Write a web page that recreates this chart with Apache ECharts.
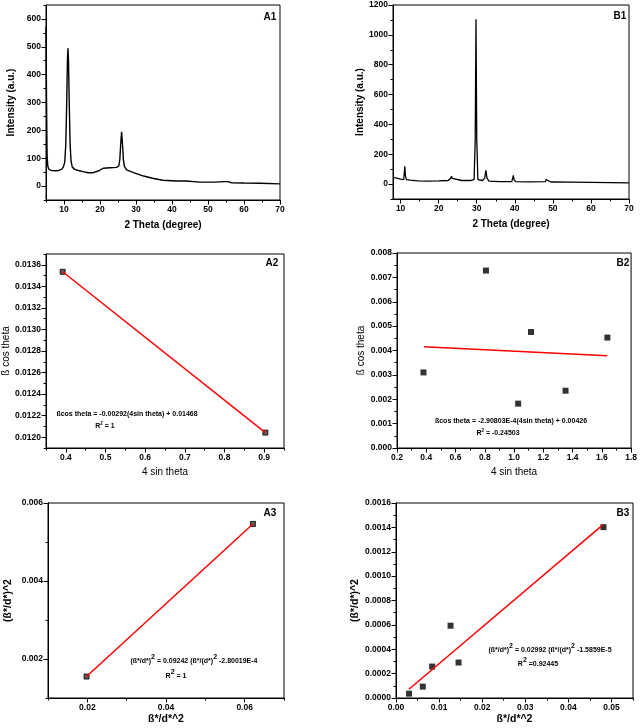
<!DOCTYPE html>
<html><head><meta charset="utf-8">
<script src="https://cdn.jsdelivr.net/npm/echarts@6/dist/echarts.min.js"></script>
<style>html,body{margin:0;padding:0;background:#fff}#c{width:640px;height:728px}</style>
</head><body><div id="c"></div>
<script>
// ---------- data ----------
const a1Xrd = [[5,572],[5.15,300],[5.3,110],[5.5,72],[5.8,60],[6.5,56],[7.5,55],[8.5,56],[9.3,60],[9.8,68],[10.2,85],[10.5,150],[10.75,300],[10.95,450],[11.1,495],[11.25,450],[11.45,300],[11.7,150],[11.95,90],[12.3,68],[13,60],[14,56],[15.3,52],[16.7,48],[18.1,48],[19.5,54],[20.9,64],[22.8,66],[24.6,67],[25.2,72],[25.5,95],[25.75,150],[26.0,195],[26.25,150],[26.5,95],[26.8,70],[27.4,58],[29.3,48],[32.1,36],[34.9,27],[37.5,21],[41.2,18],[44,18],[47.7,14],[52,14],[54.7,16],[55.5,16],[56.6,12],[60,11],[64.5,10],[70,8]];
const b1Xrd = [[8,45],[9,40],[10,33],[10.8,30],[11.0,80],[11.1,120],[11.25,60],[11.5,30],[12.5,26],[14.5,22],[17,20],[20,22],[22.5,24],[23.1,38],[23.35,52],[23.6,38],[24.1,26],[26,24],[28.5,24],[29.3,30],[29.6,300],[29.8,1105],[30.0,300],[30.3,30],[31.5,24],[32.1,40],[32.4,92],[32.7,40],[33.2,20],[36,16],[39.2,16],[39.45,40],[39.6,58],[39.8,30],[40.2,16],[44,15],[48.0,16],[48.2,30],[48.4,40],[48.7,20],[49.5,14],[55,13],[60,12],[65,10],[70,8]];
const a2Points = [[0.392,0.013535],[0.903,0.012043]];
const a2Fit = [[0.392,0.013535],[0.903,0.012043]];
const b2Points = [[0.381,0.00310],[0.808,0.00728],[1.028,0.00182],[1.116,0.00476],[1.352,0.00235],[1.638,0.00453]];
const b2Fit = [[0.385,0.00415],[1.637,0.00378]];
const a3Points = [[0.0198,0.00155],[0.0621,0.00546]];
const a3Fit = [[0.0198,0.00155],[0.0621,0.00546]];
const b3Points = [[0.00303,0.0000357],[0.00621,0.0000933],[0.00839,0.000258],[0.01266,0.000593],[0.01452,0.000291],[0.04814,0.001402]];
const b3Fit = [[0.003,0.000072],[0.048,0.00142]];

// tick values
const a1XMajor = [10,20,30,40,50,60,70], a1XMinor = [5,15,25,35,45,55,65];
const a1YMajor = [0,100,200,300,400,500,600], a1YMinor = [-50,50,150,250,350,450,550,650];
const b1XMajor = [10,20,30,40,50,60,70], b1XMinor = [15,25,35,45,55,65];
const b1YMajor = [0,200,400,600,800,1000,1200], b1YMinor = [-100,100,300,500,700,900,1100];
const a2XMajor = [0.4,0.5,0.6,0.7,0.8,0.9], a2XMinor = [0.35,0.45,0.55,0.65,0.75,0.85,0.95];
const a2YMajor = [0.0120,0.0122,0.0124,0.0126,0.0128,0.0130,0.0132,0.0134,0.0136], a2YMinor = [0.0119,0.0121,0.0123,0.0125,0.0127,0.0129,0.0131,0.0133,0.0135,0.0137];
const b2XMajor = [0.2,0.4,0.6,0.8,1.0,1.2,1.4,1.6,1.8], b2XMinor = [0.3,0.5,0.7,0.9,1.1,1.3,1.5,1.7];
const b2YMajor = [0,0.001,0.002,0.003,0.004,0.005,0.006,0.007,0.008], b2YMinor = [0.0005,0.0015,0.0025,0.0035,0.0045,0.0055,0.0065,0.0075];
const a3XMajor = [0.02,0.04,0.06], a3XMinor = [0.01,0.03,0.05,0.07];
const a3YMajor = [0.002,0.004,0.006], a3YMinor = [0.001,0.003,0.005];
const b3XMajor = [0,0.01,0.02,0.03,0.04,0.05], b3XMinor = [0.005,0.015,0.025,0.035,0.045,0.055];
const b3YMajor = [0,0.0002,0.0004,0.0006,0.0008,0.0010,0.0012,0.0014,0.0016], b3YMinor = [0.0001,0.0003,0.0005,0.0007,0.0009,0.0011,0.0013,0.0015];

// ---------- layout ----------
const FONT = '"Liberation Sans", Arial, sans-serif';
const grids = [
  {left:46, top:5, width:234, height:195},
  {left:393, top:5, width:236, height:194},
  {left:46, top:254, width:238, height:194},
  {left:397, top:253, width:236, height:195},
  {left:48, top:503, width:236, height:195},
  {left:396, top:503, width:237, height:195}
];
const xAxes = [], yAxes = [];
function addAxes(list, dim, gi, min, max, majors, minors, dec, name, gap, bold, nsize){
  const pos = dim === 'x' ? 'bottom' : 'left';
  const common = {type:'value', gridIndex:gi, min:min, max:max, position:pos, splitLine:{show:false}};
  list.push(Object.assign({}, common, {
    axisLine:{show:true, onZero:false, lineStyle:{color:'#000', width:1}},
    axisTick:{show:true, inside:false, length:2.5, customValues:minors, lineStyle:{color:'#000', width:1}},
    axisLabel:{show:false}
  }));
  list.push(Object.assign({}, common, {
    axisLine:{show:true, onZero:false, lineStyle:{color:'#000', width:1}},
    axisTick:{show:true, inside:false, length:4.5, customValues:majors, lineStyle:{color:'#000', width:1}},
    axisLabel:{show:true, customValues:majors, margin:5, color:'#000', fontSize:8.5, fontWeight:'bold', fontFamily:FONT,
      formatter: v => dec === null ? String(Math.round(v)) : Number(v).toFixed(dec)},
    name:name, nameLocation:'middle', nameGap:gap,
    nameTextStyle:{color:'#000', fontSize:nsize, fontWeight: bold ? 'bold' : 'normal', fontFamily:FONT}
  }));
}
addAxes(xAxes,'x',0,5,70,a1XMajor,a1XMinor,null,'2 Theta (degree)',20,true,10);
addAxes(yAxes,'y',0,-50,650,a1YMajor,a1YMinor,null,'Intensity (a.u.)',30,true,10);
addAxes(xAxes,'x',1,8,70,b1XMajor,b1XMinor,null,'2 Theta (degree)',20,true,10);
addAxes(yAxes,'y',1,-100,1200,b1YMajor,b1YMinor,null,'Intensity (a.u.)',27,true,10);
addAxes(xAxes,'x',2,0.35,0.95,a2XMajor,a2XMinor,1,'4 sin theta',19,false,10);
addAxes(yAxes,'y',2,0.0119,0.0137,a2YMajor,a2YMinor,4,'ß cos theta',35,false,10);
addAxes(xAxes,'x',3,0.2,1.8,b2XMajor,b2XMinor,1,'4 sin theta',19,false,10);
addAxes(yAxes,'y',3,0,0.008,b2YMajor,b2YMinor,3,'ß cos theta',31,false,10);
addAxes(xAxes,'x',4,0.01,0.07,a3XMajor,a3XMinor,2,'ß*/d*^2',16,true,10.5);
addAxes(yAxes,'y',4,0.001,0.006,a3YMajor,a3YMinor,3,'(ß*/d*)^2',34,true,10.5);
addAxes(xAxes,'x',5,0,0.055,b3XMajor,b3XMinor,2,'ß*/d*^2',16,true,10.5);
addAxes(yAxes,'y',5,0,0.0016,b3YMajor,b3YMinor,4,'(ß*/d*)^2',32,true,10.5);

function ax(i){ return {xAxisIndex:2*i+1, yAxisIndex:2*i+1}; }
const series = [
  Object.assign({type:'line', data:a1Xrd, showSymbol:false, symbol:'none', lineStyle:{color:'#000', width:1.4}}, ax(0)),
  Object.assign({type:'line', data:b1Xrd, showSymbol:false, symbol:'none', lineStyle:{color:'#000', width:1.3}}, ax(1)),
  Object.assign({type:'line', data:a2Fit, symbol:'none', lineStyle:{color:'#ff0000', width:1.5}}, ax(2)),
  Object.assign({type:'scatter', data:a2Points, symbol:'rect', symbolSize:5, itemStyle:{color:'#333', borderColor:'#000', borderWidth:1}}, ax(2)),
  Object.assign({type:'line', data:b2Fit, symbol:'none', lineStyle:{color:'#ff0000', width:1.5}}, ax(3)),
  Object.assign({type:'scatter', data:b2Points, symbol:'rect', symbolSize:6, itemStyle:{color:'#000'}}, ax(3)),
  Object.assign({type:'line', data:a3Fit, symbol:'none', lineStyle:{color:'#ff0000', width:1.5}}, ax(4)),
  Object.assign({type:'scatter', data:a3Points, symbol:'rect', symbolSize:5, itemStyle:{color:'#333', borderColor:'#000', borderWidth:1}}, ax(4)),
  Object.assign({type:'line', data:b3Fit, symbol:'none', lineStyle:{color:'#ff0000', width:1.5}}, ax(5)),
  Object.assign({type:'scatter', data:b3Points, symbol:'rect', symbolSize:6, itemStyle:{color:'#000'}}, ax(5))
];
series.forEach(s => { s.silent = true; s.animation = false; });

function label(t, x, y, size){
  return {type:'text', x:x, y:y, silent:true, style:{text:t, fill:'#000', font:'bold '+size+'px '+FONT, textAlign:'center', textVerticalAlign:'middle'}};
}
const richStyles = {
  n:{fontSize:7, fontWeight:'bold', fontFamily:FONT, color:'#000', lineHeight:9, verticalAlign:'bottom'},
  t:{fontSize:4.5, fontWeight:'bold', fontFamily:FONT, color:'#000', lineHeight:9, verticalAlign:'top', padding:[1,0,0,0]},
  m:{fontSize:7, fontWeight:'bold', fontFamily:FONT, color:'#000', lineHeight:11, verticalAlign:'bottom'},
  s:{fontSize:7, fontWeight:'bold', fontFamily:FONT, color:'#000', lineHeight:11, verticalAlign:'top'}
};
function rich(t, x, y){
  return {type:'text', x:x, y:y, silent:true, style:{text:t, rich:richStyles, fill:'#000', font:'bold 7px '+FONT, textAlign:'center', textVerticalAlign:'middle'}};
}
const graphics = [
  label('A1',270,17,10), label('B1',620,16,10), label('A2',272,263,10),
  label('B2',623,263,10), label('A3',270,513,10), label('B3',623,513,10),
  rich('{n|ßcos theta = -0.00292(4sin theta) + 0.01468}',127,413),
  rich('{n|R}{t|2}{n| = 1}',105,425),
  rich('{n|ßcos theta = -2.90803E-4(4sin theta) + 0.00426}',511,420),
  rich('{n|R}{t|2}{n| = -0.24503}',498,432),
  rich('{m|(ß*/d*)}{s|2}{m| = 0.09242 (ß*/(d*)}{s|2}{m| -2.80019E-4}',194,659),
  rich('{m|R}{s|2}{m| = 1}',176,674),
  rich('{m|(ß*/d*)}{s|2}{m| = 0.02992 (ß*/(d*)}{s|2}{m| -1.5859E-5}',550,648),
  rich('{m|R}{s|2}{m| =0.92445}',538,662)
];

const chart = echarts.init(document.getElementById('c'), null, {renderer:'canvas'});
chart.setOption({
  animation:false,
  backgroundColor:'#fff',
  textStyle:{fontFamily:FONT},
  grid: grids.map(g => Object.assign({show:true, borderColor:'#000', borderWidth:1, backgroundColor:'transparent'}, g)),
  xAxis:xAxes, yAxis:yAxes, series:series, graphic:graphics
});
</script></body></html>
